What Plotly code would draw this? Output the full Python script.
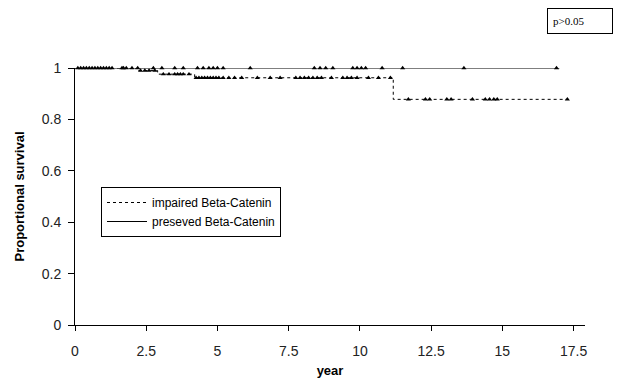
import plotly.graph_objects as go

# Kaplan-Meier step curves (years, proportional survival)
imp_t = [0, 2.2, 2.9, 4.2, 11.17, 17.33]
imp_s = [1.0, 0.99, 0.976, 0.962, 0.878, 0.878]
pre_t = [0, 17.0]
pre_s = [1.0, 1.0]

# censoring marks
imp_cens_t = [0.3, 0.6, 0.9, 1.2, 1.7, 2.0,
              2.3, 2.45, 2.6, 2.8,
              3.1, 3.3, 3.5, 3.6, 3.7, 3.8, 4.0,
              4.25, 4.35, 4.45, 4.55, 4.65, 4.75, 4.85, 4.95, 5.05, 5.2, 5.4, 5.6, 5.85,
              6.4, 6.85, 7.2, 7.75, 7.9, 8.05, 8.2, 8.35, 8.5, 8.65, 9.0,
              9.4, 9.55, 9.7, 9.9, 10.3, 10.65, 11.07,
              11.7, 12.3, 12.45, 13.05, 13.2, 13.95, 14.4, 14.55, 14.7, 14.82, 17.28]
imp_cens_s = [1.0] * 6 + [0.99] * 4 + [0.976] * 7 + [0.962] * 31 + [0.878] * 11
pre_cens_t = [0.1, 0.2, 0.4, 0.5, 0.7, 0.8, 1.0, 1.1, 1.3,
              1.65, 1.8, 2.2, 2.75, 3.05, 3.5, 3.8,
              4.3, 4.5, 4.7, 4.85, 5.0, 5.2, 6.15,
              8.4, 8.6, 8.8, 9.05, 9.75, 9.9, 10.05, 10.2, 10.78, 11.5, 13.65, 16.9]
pre_cens_s = [1.0] * len(pre_cens_t)

x_ticks = [0, 2.5, 5, 7.5, 10, 12.5, 15, 17.5]
y_ticks = [0, 0.2, 0.4, 0.6, 0.8, 1]

fig = go.Figure()
fig.add_trace(go.Scatter(x=imp_t, y=imp_s, mode="lines", line_shape="hv",
                         line=dict(color="black", width=1, dash="dot"),
                         name="impaired Beta-Catenin", cliponaxis=False))
fig.add_trace(go.Scatter(x=pre_t, y=pre_s, mode="lines", line_shape="hv",
                         line=dict(color="black", width=1.2),
                         name="preseved Beta-Catenin", cliponaxis=False))
fig.add_trace(go.Scatter(x=imp_cens_t, y=imp_cens_s, mode="markers",
                         marker=dict(symbol="triangle-up", size=4.5, color="black"),
                         showlegend=False, cliponaxis=False))
fig.add_trace(go.Scatter(x=pre_cens_t, y=pre_cens_s, mode="markers",
                         marker=dict(symbol="triangle-up", size=4.5, color="black"),
                         showlegend=False, cliponaxis=False))

axis_font = dict(family="Liberation Sans, Arial", size=14, color="#222")
title_font = dict(family="Liberation Sans, Arial", size=13, color="black")
fig.update_layout(
    width=629, height=381,
    margin=dict(l=75, r=44, t=68, b=56),
    plot_bgcolor="white", paper_bgcolor="white",
    showlegend=True,
    legend=dict(x=(101 - 75) / 510, y=(325 - 187) / 257, xanchor="left", yanchor="top",
                bordercolor="black", borderwidth=1, bgcolor="white",
                font=dict(family="Liberation Sans, Arial", size=12, color="black"),
                tracegroupgap=0, itemwidth=40),
    xaxis=dict(range=[0, 17.9], tickvals=x_ticks, ticktext=[str(v) for v in x_ticks],
               showgrid=False, zeroline=False, showline=True, linecolor="black",
               linewidth=1, ticks="outside", ticklen=5, tickcolor="black",
               tickfont=axis_font, ticklabelstandoff=8, automargin=False,
               title=dict(text="<b>year</b>", font=title_font, standoff=8)),
    yaxis=dict(range=[0, 1.0], tickvals=y_ticks, ticktext=["0", "0.2", "0.4", "0.6", "0.8", "1"],
               showgrid=False, zeroline=False, showline=True, linecolor="black",
               linewidth=1, ticks="outside", ticklen=6, tickcolor="black",
               tickfont=axis_font, ticklabelstandoff=4, automargin=False,
               title=dict(text="<b>Proportional survival</b>", font=title_font, standoff=14)),
    annotations=[dict(text="p>0.05", xref="paper", yref="paper",
                      x=(547 - 75) / 510, y=(325 - 8) / 257, xanchor="left", yanchor="top",
                      showarrow=False, align="left",
                      font=dict(family="Liberation Serif, Times New Roman", size=11, color="black"),
                      bordercolor="black", borderwidth=1, borderpad=5, width=54, height=14)],
)
fig.write_html("out.html", config={"displayModeBar": False},
               post_script="document.body.style.margin='0';")
